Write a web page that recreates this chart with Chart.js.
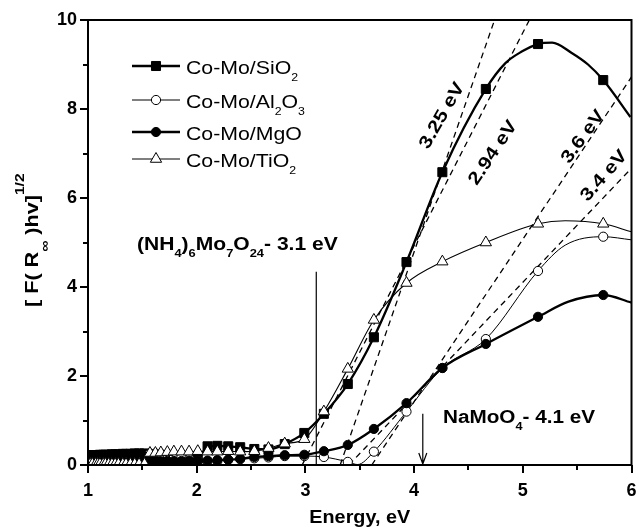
<!DOCTYPE html>
<html><head><meta charset="utf-8">
<style>html,body{margin:0;padding:0;background:#fff;overflow:hidden}canvas{display:block}</style>
<script src="https://cdn.jsdelivr.net/npm/chart.js@4.4.1/dist/chart.umd.min.js"></script>
</head><body>
<canvas id="c" width="639" height="528"></canvas>
<script>
// ---- data ----
const energy = [1.00,1.02,1.04,1.07,1.09,1.11,1.14,1.16,1.19,1.22,1.25,1.28,1.32,1.35,1.39,1.43,1.47,1.52,
  1.57,1.62,1.67,1.73,1.79,1.86,1.93,2.01,
  2.10,2.19,2.29,2.40,2.53,2.66,2.81,2.99,3.17,3.39,3.63,3.93,4.26,4.66,5.14,5.74];
const sio2 = [0.22,0.22,0.22,0.22,0.22,0.23,0.23,0.23,0.23,0.24,0.24,0.24,0.25,0.25,0.25,0.26,0.26,0.26,
  0.12,0.12,0.12,0.12,0.12,0.13,0.13,0.14,
  0.42,0.43,0.42,0.40,0.36,0.35,0.47,0.72,1.15,1.82,2.87,4.56,6.58,8.45,9.46,8.65];
const al2o3 = [0.03,0.03,0.03,0.03,0.03,0.03,0.03,0.03,0.03,0.03,0.03,0.03,0.03,0.03,0.03,0.03,0.03,0.03,
  0.26,0.26,0.25,0.24,0.22,0.18,0.14,0.10,
  0.08,0.09,0.12,0.13,0.15,0.17,0.20,0.20,0.18,0.07,0.30,1.20,2.18,2.83,4.36,5.13];
const mgo = [0.15,0.15,0.15,0.15,0.16,0.16,0.16,0.16,0.16,0.16,0.17,0.17,0.17,0.17,0.17,0.18,0.18,0.18,
  0.08,0.08,0.08,0.09,0.09,0.09,0.10,0.10,
  0.10,0.11,0.12,0.14,0.18,0.20,0.22,0.23,0.31,0.45,0.81,1.39,2.18,2.72,3.33,3.82];
const tio2 = [0.02,0.02,0.02,0.02,0.02,0.02,0.02,0.02,0.02,0.02,0.02,0.02,0.02,0.02,0.02,0.02,0.02,0.02,
  0.27,0.27,0.28,0.29,0.30,0.30,0.30,0.31,
  0.30,0.30,0.31,0.30,0.31,0.38,0.48,0.58,1.20,2.16,3.26,4.09,4.57,5.00,5.42,5.42];
// extra curve points between markers (no marker drawn)
const sio2CurveE = [4.84,4.99,5.27,5.45,5.60,5.99];
const sio2CurveV = [9.03,9.29,9.49,9.26,9.00,7.82];
const al2o3CurveE = [3.48,5.39,6.00];
const al2o3CurveV = [0.01,4.94,5.06];
const mgoCurveE = [4.90,5.42,6.00];
const mgoCurveV = [3.03,3.67,3.65];
const tio2CurveE = [5.39,6.00];
const tio2CurveV = [5.49,5.24];
// tangent (dashed) lines: [E start, E end], [value start, value end]
const tanE = [[3.32,4.74],[2.97,5.06],[3.61,6.00],[3.40,6.00]];
const tanV = [[0,10],[0,10],[0,8.72],[0,6.67]];
const tanLabels = ['3.25 eV','2.94 eV','3.6 eV','3.4 eV'];
const seriesNames = ['Co-Mo/SiO_{2}','Co-Mo/Al_{2}O_{3}','Co-Mo/MgO','Co-Mo/TiO_{2}'];
const xTicks = [1,2,3,4,5,6];
const yTicks = [0,2,4,6,8,10];
const xTitle = 'Energy, eV';
const yTitle = '[ F( R_{∞} )hv]^{1/2}';
const refLabels = ['(NH_{4})_{6}Mo_{7}O_{24}- 3.1 eV','NaMoO_{4}- 4.1 eV'];
const refE = [3.1, 4.08];
const refTop = [4.34, 1.15];

// ---- helpers ----
const FAM = '"Liberation Sans", Arial, Helvetica, sans-serif';
function fnt(s){ return (s.bold?'bold ':'') + s.size + 'px ' + FAM; }
function parse(str, size, subSize, bold, subDy, supDy){
  const segs=[]; const re=/([_^])\{([^}]*)\}|([^_^]+)/g; let m;
  while((m=re.exec(str))){
    if(m[3]) segs.push({t:m[3],size,bold,dy:0});
    else segs.push({t:m[2],size:subSize,bold,dy:m[1]==='_'?subDy:supDy});
  }
  return segs;
}
function rich(ctx,x,y,segs,opt){
  ctx.save();
  ctx.translate(x,y);
  ctx.rotate((opt.angle||0)*Math.PI/180);
  ctx.scale(opt.sx||1,1);
  let total=0;
  segs.forEach(s=>{ctx.font=fnt(s); s.w=ctx.measureText(s.t).width; total+=s.w;});
  let cx = opt.align==='center' ? -total/2 : 0;
  ctx.fillStyle='#000'; ctx.textBaseline='alphabetic'; ctx.textAlign='left';
  segs.forEach(s=>{ctx.font=fnt(s); ctx.fillText(s.t,cx,(s.dy||0)+(opt.dy||0)); cx+=s.w;});
  ctx.restore();
}
function marker(ctx,style,x,y,r,fill){
  ctx.save();
  ctx.beginPath();
  if(style==='rect'){const h=Math.SQRT1_2*r; ctx.rect(x-h,y-h,2*h,2*h);}
  else if(style==='circle'){ctx.arc(x,y,r,0,Math.PI*2);}
  else if(style==='triangle'){
    ctx.moveTo(x,y-r);
    ctx.lineTo(x+Math.sin(2*Math.PI/3)*r,y-Math.cos(2*Math.PI/3)*r);
    ctx.lineTo(x+Math.sin(4*Math.PI/3)*r,y-Math.cos(4*Math.PI/3)*r);
    ctx.closePath();
  }
  ctx.fillStyle=fill; ctx.fill();
  ctx.lineWidth=1; ctx.strokeStyle='#000'; ctx.stroke();
  ctx.restore();
}
function series(vals,cE,cV){
  const pts=energy.map((x,i)=>({x,y:vals[i],m:true}));
  cE.forEach((x,i)=>pts.push({x,y:cV[i],m:false}));
  pts.sort((a,b)=>a.x-b.x);
  return pts;
}
const styles = [
  {style:'rect',r:6.4,fill:'#000',lw:2.3,order:3},
  {style:'circle',r:4.6,fill:'#fff',lw:1.0,order:2},
  {style:'circle',r:4.6,fill:'#000',lw:2.3,order:1},
  {style:'triangle',r:6.5,fill:'#fff',lw:1.1,order:0}
];
const allVals=[sio2,al2o3,mgo,tio2];
const allCE=[sio2CurveE,al2o3CurveE,mgoCurveE,tio2CurveE];
const allCV=[sio2CurveV,al2o3CurveV,mgoCurveV,tio2CurveV];

const datasets = allVals.map((v,i)=>{
  const st=styles[i];
  return {
    label: seriesNames[i],
    data: series(v,allCE[i],allCV[i]),
    showLine:true, borderColor:'#000', borderWidth:st.lw,
    cubicInterpolationMode:'monotone',
    pointStyle:st.style,
    pointRadius: c => (c.raw && c.raw.m) ? st.r : 0,
    pointBackgroundColor:st.fill, pointBorderColor:'#000', pointBorderWidth:1,
    order:st.order
  };
});
tanE.forEach((e,i)=>{
  datasets.push({
    label:tanLabels[i],
    data:[{x:e[0],y:tanV[i][0]},{x:e[1],y:tanV[i][1]}],
    showLine:true, borderColor:'#000', borderWidth:1.3, borderDash:[6,4.5],
    pointRadius:0, order:10
  });
});

const deco = {
  id:'deco',
  afterDatasetsDraw(chart){
    const ctx=chart.ctx, a=chart.chartArea, xs=chart.scales.x, ys=chart.scales.y;
    ctx.save();
    // frame
    ctx.strokeStyle='#000'; ctx.lineWidth=2;
    ctx.strokeRect(a.left,a.top,a.right-a.left,a.bottom-a.top);
    // ticks
    ctx.lineWidth=2; ctx.beginPath();
    for(let v=1; v<=6.001; v+=0.5){
      const px=Math.round(xs.getPixelForValue(v));
      const len = Math.abs(v-Math.round(v))<1e-6 ? 8 : 5;
      ctx.moveTo(px,a.bottom); ctx.lineTo(px,a.bottom+len);
    }
    for(let v=0; v<=10.001; v+=1){
      const py=Math.round(ys.getPixelForValue(v));
      const len = (v%2===0) ? 8 : 5;
      ctx.moveTo(a.left,py); ctx.lineTo(a.left-len,py);
    }
    ctx.stroke();
    // legend
    const rows=[66,100,132,159];
    seriesNames.forEach((n,i)=>{
      const st=styles[i], y=rows[i];
      ctx.beginPath(); ctx.lineWidth=st.lw; ctx.strokeStyle='#000';
      ctx.moveTo(132,y); ctx.lineTo(180,y); ctx.stroke();
      marker(ctx,st.style,156,y,st.r,st.fill);
      rich(ctx,186,y+7.5,parse(n,19,11,false,7,-8),{sx:1.12});
    });
    // reference markers
    const x1=xs.getPixelForValue(refE[0]);
    ctx.beginPath(); ctx.lineWidth=1.2;
    ctx.moveTo(x1,ys.getPixelForValue(refTop[0])); ctx.lineTo(x1,a.bottom); ctx.stroke();
    const x2=xs.getPixelForValue(refE[1]);
    ctx.beginPath();
    ctx.moveTo(x2,ys.getPixelForValue(refTop[1])); ctx.lineTo(x2,a.bottom-1);
    ctx.moveTo(x2-4,a.bottom-12); ctx.lineTo(x2,a.bottom-1); ctx.lineTo(x2+4,a.bottom-12);
    ctx.stroke();
    rich(ctx,137,249.5,parse(refLabels[0],18,11,true,7,-7),{sx:1.17});
    rich(ctx,443,422.7,parse(refLabels[1],18,11,true,7.5,-7),{sx:1.15});
    // band-gap labels
    const lp=[[441,115,-60],[492,152,-56],[582,136,-54],[603,175,-49]];
    tanLabels.forEach((t,i)=>{
      rich(ctx,lp[i][0],lp[i][1],[{t,size:18,bold:true,dy:0}],{angle:lp[i][2],sx:1.18,align:'center',dy:6.4});
    });
    // axis titles
    rich(ctx,(a.left+a.right)/2,523,[{t:xTitle,size:18,bold:true,dy:0}],{sx:1.1,align:'center'});
    rich(ctx,38,307,parse(yTitle,18,13,true,11,-14),{angle:-90,sx:1.2});
    ctx.restore();
  }
};

new Chart(document.getElementById('c'),{
  type:'scatter',
  data:{datasets},
  options:{
    responsive:false, animation:false, devicePixelRatio:1, events:[],
    layout:{padding:{left:0,top:20,right:2,bottom:0}},
    plugins:{legend:{display:false},tooltip:{enabled:false},title:{display:false}},
    scales:{
      x:{type:'linear',min:1,max:6,position:'bottom',
        afterBuildTicks:s=>{s.ticks=xTicks.map(v=>({value:v}));},
        ticks:{font:{family:FAM,size:18,weight:'bold'},color:'#000',padding:15,maxRotation:0,autoSkip:false},
        grid:{display:false,drawTicks:false},border:{display:false},
        afterFit:s=>{s.height=63;s.paddingLeft=0;s.paddingRight=0;}
      },
      y:{type:'linear',min:0,max:10,position:'left',
        afterBuildTicks:s=>{s.ticks=yTicks.map(v=>({value:v}));},
        ticks:{font:{family:FAM,size:18,weight:'bold'},color:'#000',padding:11,autoSkip:false},
        grid:{display:false,drawTicks:false},border:{display:false},
        afterFit:s=>{s.width=88;s.paddingTop=0;s.paddingBottom=0;}
      }
    }
  },
  plugins:[deco]
});
</script>
</body></html>
